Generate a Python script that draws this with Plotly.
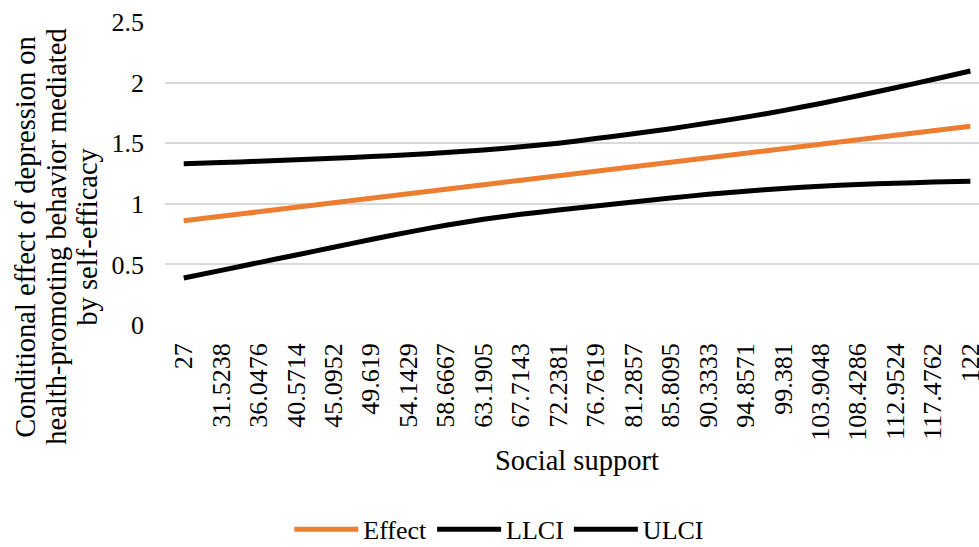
import plotly.graph_objects as go

# Moderator values (social support) used as categories
social_support = ["27", "31.5238", "36.0476", "40.5714", "45.0952", "49.619",
                  "54.1429", "58.6667", "63.1905", "67.7143", "72.2381", "76.7619",
                  "81.2857", "85.8095", "90.3333", "94.8571", "99.381", "103.9048",
                  "108.4286", "112.9524", "117.4762", "122"]

# Conditional indirect effect and its bootstrap confidence bounds
effect = [0.860, 0.897, 0.934, 0.971, 1.009, 1.046, 1.083, 1.120, 1.157, 1.194, 1.231,
          1.269, 1.306, 1.343, 1.380, 1.417, 1.454, 1.491, 1.529, 1.566, 1.603, 1.640]
llci = [0.388, 0.451, 0.515, 0.578, 0.641, 0.705, 0.766, 0.823, 0.872, 0.913, 0.948,
        0.982, 1.015, 1.048, 1.078, 1.104, 1.126, 1.145, 1.159, 1.170, 1.179, 1.187]
ulci = [1.330, 1.340, 1.351, 1.363, 1.376, 1.390, 1.405, 1.423, 1.444, 1.470, 1.500,
        1.538, 1.578, 1.620, 1.666, 1.715, 1.769, 1.828, 1.892, 1.958, 2.026, 2.096]

FONT = "Liberation Serif, Times New Roman, serif"
ORANGE = "#ED7D31"
GRID = "#d9d9d9"

fig = go.Figure()
for name, vals, col in [("Effect", effect, ORANGE), ("LLCI", llci, "#000000"), ("ULCI", ulci, "#000000")]:
    fig.add_trace(go.Scatter(
        x=social_support, y=vals, name=name, mode="lines",
        line=dict(color=col, width=5, shape="spline", smoothing=0.6),
    ))

L, T, B = 164.5, 21.7, 222
W, H = 979, 547
plot_w = W - L
plot_h = H - T - B

fig.update_layout(
    width=W, height=H,
    template="none",
    paper_bgcolor="white", plot_bgcolor="white",
    margin=dict(l=L, r=0, t=T, b=B, autoexpand=False),
    font=dict(family=FONT, size=26, color="#000000"),
    showlegend=True,
    legend=dict(orientation="h", xanchor="center", x=(499 - L) / plot_w,
                yanchor="bottom", y=-(H + 6 - (T + plot_h)) / plot_h,
                font=dict(family=FONT, size=26), bgcolor="rgba(0,0,0,0)",
                borderwidth=0, traceorder="normal", itemwidth=64),
    xaxis=dict(
        type="category", range=[-0.5, 21.23], tickangle=-90,
        showgrid=False, showline=False, zeroline=False, ticks="",
        tickfont=dict(family=FONT, size=26), ticklabelstandoff=12,
        automargin=False, fixedrange=True,
    ),
    yaxis=dict(
        range=[0, 2.5], dtick=0.5, showgrid=True, gridcolor=GRID, gridwidth=2,
        zeroline=False, showline=False, ticks="",
        tickfont=dict(family=FONT, size=26), ticklabelstandoff=20,
        automargin=False, fixedrange=True,
    ),
)

# Axis titles
fig.add_annotation(text="Social support", xref="x", yref="paper", x=10.5,
                   y=-(461 - (T + plot_h)) / plot_h, xanchor="center", yanchor="middle",
                   showarrow=False, font=dict(family=FONT, size=28.5))
ytitle_lines = ["Conditional effect of depression on",
                "health-promoting behavior mediated",
                "by self-efficacy"]
for i, line in enumerate(ytitle_lines):
    fig.add_annotation(text=line, xref="paper", yref="paper",
                       x=(25 + 31 * i - L) / plot_w, y=(T + plot_h - 237) / plot_h,
                       xanchor="center", yanchor="middle", textangle=-90,
                       showarrow=False, font=dict(family=FONT, size=28.5))

fig.write_html("out.html")
